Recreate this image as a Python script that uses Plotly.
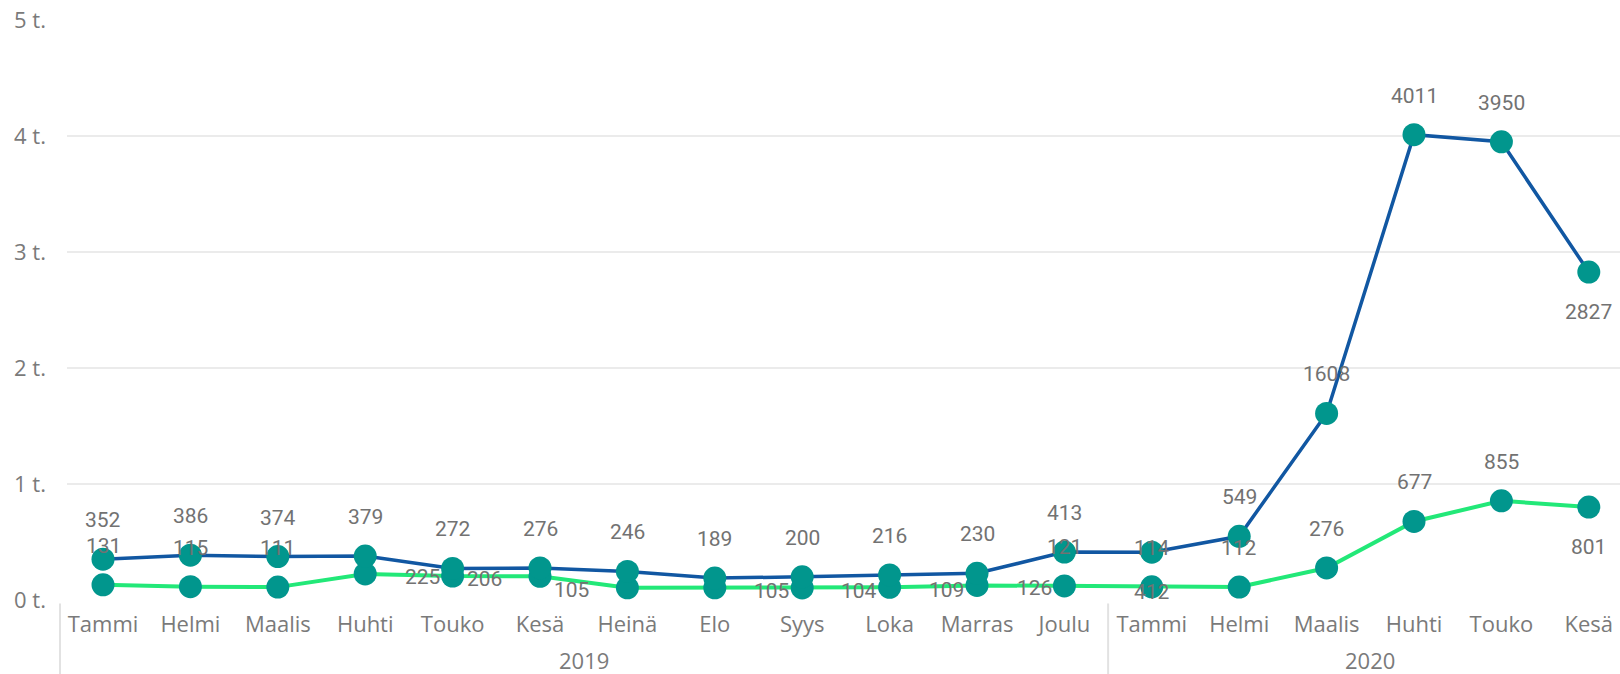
import plotly.graph_objects as go

# Months on the category axis, grouped by year
months = ["Tammi", "Helmi", "Maalis", "Huhti", "Touko", "Kesä", "Heinä", "Elo",
          "Syys", "Loka", "Marras", "Joulu",
          "Tammi", "Helmi", "Maalis", "Huhti", "Touko", "Kesä"]
years = ["2019"] * 12 + ["2020"] * 6

# Monthly counts for the two series
values_a = [352, 386, 374, 379, 272, 276, 246, 189, 200, 216, 230, 413,
            412, 549, 1608, 4011, 3950, 2827]
values_b = [131, 115, 111, 225, 206, 204, 105, 105, 104, 109, 126, 121,
            114, 112, 276, 677, 855, 801]

y_ticks = [0, 1000, 2000, 3000, 4000, 5000]
y_tick_labels = ["0 t.", "1 t.", "2 t.", "3 t.", "4 t.", "5 t."]

# Where each data label sits relative to its point
place_a = ["above"] * 12 + ["below"] + ["above"] * 4 + ["below"]
place_b = ["above", "above", "above", "right", "near_right", "none", "left",
           "right", "right", "right", "right", "above", "above", "above",
           "above", "above", "above", "below"]
offsets = {
    "above": (0, 39),
    "below": (0, -40),
    "right": (57, -3),
    "near_right": (32, -3),
    "left": (-56, -2),
}

COLOR_A = "#1157A2"
COLOR_B = "#22E878"
MARKER = "#01968D"
AXIS_GREY = "#7A7A7A"
LABEL_GREY = "#727272"

idx = list(range(len(months)))

fig = go.Figure()
# lines first so every marker sits on top of both lines
fig.add_trace(go.Scatter(x=idx, y=values_b, mode="lines",
                         line=dict(color=COLOR_B, width=4), hoverinfo="skip"))
fig.add_trace(go.Scatter(x=idx, y=values_a, mode="lines",
                         line=dict(color=COLOR_A, width=3.5), hoverinfo="skip"))
for vals in (values_b, values_a):
    fig.add_trace(go.Scatter(x=idx, y=vals, mode="markers",
                             marker=dict(color=MARKER, size=23, line=dict(width=0))))

annotations = []
for vals, places in ((values_a, place_a), (values_b, place_b)):
    for i, (v, p) in enumerate(zip(vals, places)):
        if p == "none":
            continue
        dx, dy = offsets[p]
        annotations.append(dict(
            x=i, y=v, xref="x", yref="y", text=str(v), showarrow=False,
            xshift=dx, yshift=dy,
            font=dict(family="Roboto, sans-serif", size=21, color=LABEL_GREY),
        ))

# year labels centred under their month groups
groups = []
for i, yr in enumerate(years):
    if not groups or groups[-1][0] != yr:
        groups.append([yr, i, i])
    else:
        groups[-1][2] = i
for yr, start, end in groups:
    annotations.append(dict(
        x=(start + end) / 2, y=-0.103, xref="x", yref="paper", text=yr,
        showarrow=False, yanchor="middle",
        font=dict(family="Open Sans, sans-serif", size=22, color=AXIS_GREY),
    ))

shapes = [dict(type="line", xref="x domain", yref="paper", x0=-0.0045, x1=-0.0045,
               y0=-0.006, y1=-0.13, line=dict(color="#E2E2E2", width=2))]
for yr, start, end in groups[1:]:
    shapes.append(dict(type="line", xref="x", yref="paper", x0=start - 0.5,
                       x1=start - 0.5, y0=-0.006, y1=-0.13,
                       line=dict(color="#E2E2E2", width=2)))

fig.update_layout(
    width=1620, height=674,
    margin=dict(l=67, r=0, t=20, b=74),
    paper_bgcolor="white", plot_bgcolor="white",
    showlegend=False,
    annotations=annotations,
    shapes=shapes,
    xaxis=dict(
        range=[-0.412, 17.357], tickmode="array", tickvals=idx, ticktext=months,
        showgrid=False, zeroline=False, showline=False, ticks="",
        ticklabelstandoff=9,
        tickfont=dict(family="Open Sans, sans-serif", size=22, color=AXIS_GREY),
    ),
    yaxis=dict(
        range=[0, 5000], tickmode="array", tickvals=y_ticks, ticktext=y_tick_labels,
        showgrid=True, gridcolor="#EBEBEB", gridwidth=2, zeroline=False,
        showline=False, ticks="", ticklabelstandoff=20,
        tickfont=dict(family="Open Sans, sans-serif", size=22, color=AXIS_GREY),
    ),
)

fig.write_html("out.html")
